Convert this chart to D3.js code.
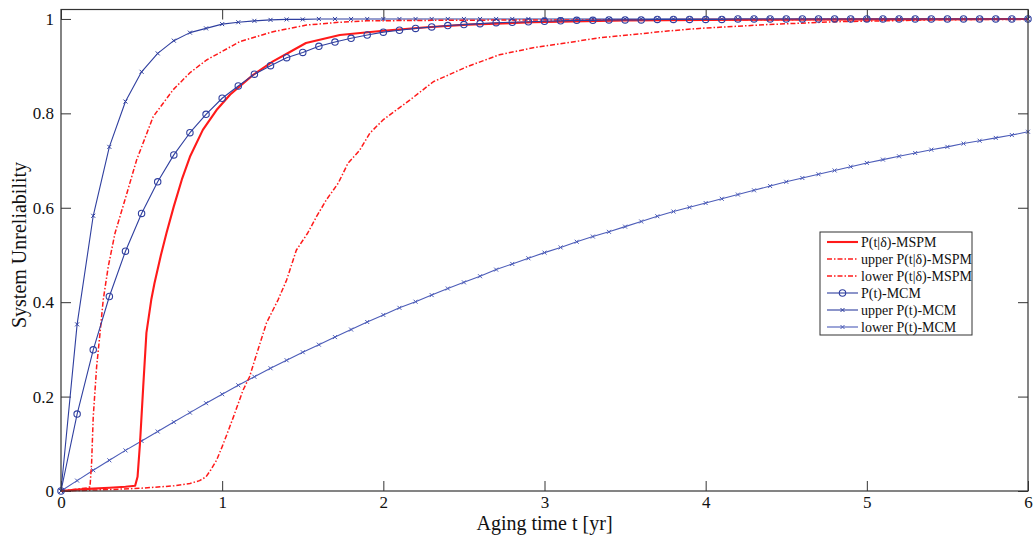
<!DOCTYPE html>
<html>
<head>
<meta charset="utf-8">
<script src="https://cdn.jsdelivr.net/npm/d3@7"></script>
<style>
  html, body { margin: 0; padding: 0; background: #fff; }
  svg { display: block; }
  svg text { font-family: "Liberation Serif", "DejaVu Serif", "Times New Roman", serif; }
</style>
</head>
<body>
<svg id="chart" width="1036" height="541"></svg>
<script>
// ---------- DATA ----------
const xTicks = [0, 1, 2, 3, 4, 5, 6];
const yTicks = [0, 0.2, 0.4, 0.6, 0.8, 1];
const xTickLabels = ["0", "1", "2", "3", "4", "5", "6"];
const yTickLabels = ["0", "0.2", "0.4", "0.6", "0.8", "1"];
const xLabel = "Aging time t [yr]";
const yLabel = "System Unreliability";

const seriesNames = [
  "P(t|\u03b4)-MSPM",
  "upper P(t|\u03b4)-MSPM",
  "lower P(t|\u03b4)-MSPM",
  "P(t)-MCM",
  "upper P(t)-MCM",
  "lower P(t)-MCM"
];

// MSPM curves (irregular time sampling)
const mspmT = [0, 0.1, 0.2, 0.3, 0.4, 0.46, 0.475, 0.49, 0.51, 0.53, 0.56, 0.58, 0.62, 0.655, 0.7, 0.75, 0.8, 0.88, 0.965, 1.05, 1.19, 1.315, 1.42, 1.52, 1.73, 2.0, 2.25, 2.52, 2.93, 3.5, 4.0, 5.0, 6.0];
const mspmP = [0, 0.003, 0.005, 0.007, 0.009, 0.011, 0.03, 0.1, 0.22, 0.335, 0.405, 0.44, 0.5, 0.547, 0.603, 0.66, 0.708, 0.765, 0.807, 0.84, 0.881, 0.91, 0.93, 0.949, 0.966, 0.975, 0.982, 0.988, 0.993, 0.997, 0.998, 0.999, 1.0];

const upperMspmT = [0, 0.1, 0.17, 0.18, 0.19, 0.2, 0.221, 0.242, 0.262, 0.293, 0.335, 0.397, 0.469, 0.572, 0.696, 0.8, 0.903, 1.11, 1.316, 1.523, 1.73, 1.895, 2.3, 3.0, 4.0, 5.0, 6.0];
const upperMspmP = [0, 0.004, 0.007, 0.009, 0.06, 0.157, 0.263, 0.334, 0.405, 0.475, 0.546, 0.617, 0.701, 0.793, 0.85, 0.886, 0.913, 0.952, 0.973, 0.987, 0.993, 0.996, 0.997, 0.998, 0.998, 0.999, 0.999];

const lowerMspmT = [0, 0.3, 0.5, 0.7, 0.8, 0.86, 0.9, 0.93, 0.965, 1.0, 1.035, 1.07, 1.13, 1.17, 1.2, 1.235, 1.275, 1.347, 1.4, 1.44, 1.46, 1.53, 1.585, 1.647, 1.72, 1.78, 1.853, 1.916, 1.998, 2.08, 2.164, 2.31, 2.52, 2.72, 2.93, 3.13, 3.34, 3.55, 3.75, 3.96, 4.38, 4.79, 5.41, 6.0];
const lowerMspmP = [0, 0.003, 0.006, 0.011, 0.016, 0.022, 0.03, 0.045, 0.065, 0.094, 0.125, 0.157, 0.214, 0.242, 0.275, 0.313, 0.356, 0.405, 0.447, 0.489, 0.51, 0.546, 0.581, 0.617, 0.652, 0.694, 0.722, 0.758, 0.786, 0.807, 0.828, 0.867, 0.899, 0.924, 0.939, 0.949, 0.96, 0.967, 0.974, 0.98, 0.988, 0.994, 0.998, 1.0];

// MCM curves (sampled every 0.1 yr)
const mcmT = [0, 0.1, 0.2, 0.3, 0.4, 0.5, 0.6, 0.7, 0.8, 0.9, 1.0, 1.1, 1.2, 1.3, 1.4, 1.5, 1.6, 1.7, 1.8, 1.9, 2.0, 2.1, 2.2, 2.3, 2.4, 2.5, 2.6, 2.7, 2.8, 2.9, 3.0, 3.1, 3.2, 3.3, 3.4, 3.5, 3.6, 3.7, 3.8, 3.9, 4.0, 4.1, 4.2, 4.3, 4.4, 4.5, 4.6, 4.7, 4.8, 4.9, 5.0, 5.1, 5.2, 5.3, 5.4, 5.5, 5.6, 5.7, 5.8, 5.9, 6.0];
const mcmP = [0, 0.163, 0.299, 0.412, 0.508, 0.588, 0.655, 0.712, 0.759, 0.798, 0.832, 0.858, 0.883, 0.901, 0.918, 0.929, 0.942, 0.951, 0.959, 0.966, 0.972, 0.976, 0.98, 0.983, 0.986, 0.988, 0.99, 0.992, 0.993, 0.994, 0.995, 0.996, 0.997, 0.997, 0.998, 0.998, 0.998, 0.999, 0.999, 0.999, 0.999, 0.999, 1, 1, 1, 1, 1, 1, 1, 1, 1, 1, 1, 1, 1, 1, 1, 1, 1, 1, 1];
const upperMcmP = [0, 0.353, 0.583, 0.729, 0.825, 0.888, 0.927, 0.954, 0.971, 0.98, 0.989, 0.993, 0.996, 0.998, 0.999, 0.999, 1, 1, 1, 1, 1, 1, 1, 1, 1, 1, 1, 1, 1, 1, 1, 1, 1, 1, 1, 1, 1, 1, 1, 1, 1, 1, 1, 1, 1, 1, 1, 1, 1, 1, 1, 1, 1, 1, 1, 1, 1, 1, 1, 1, 1];
const lowerMcmP = [0, 0.022, 0.044, 0.065, 0.086, 0.106, 0.126, 0.146, 0.166, 0.186, 0.205, 0.224, 0.242, 0.26, 0.277, 0.294, 0.31, 0.326, 0.342, 0.358, 0.373, 0.388, 0.401, 0.415, 0.429, 0.442, 0.455, 0.469, 0.481, 0.493, 0.505, 0.516, 0.528, 0.539, 0.549, 0.56, 0.571, 0.582, 0.592, 0.601, 0.61, 0.619, 0.628, 0.637, 0.646, 0.655, 0.663, 0.671, 0.679, 0.687, 0.695, 0.702, 0.709, 0.716, 0.723, 0.729, 0.736, 0.742, 0.748, 0.754, 0.761];

// ---------- STYLES ----------
const FONT = "'Liberation Serif', 'DejaVu Serif', 'Times New Roman', serif";
const RED = "#ff1a1a";
const BLUE = "#2f3f9f";
const BLUE_LIGHT = "#4c5cb8";
const DASHDOT = "5,2,1.5,2";

const styles = [
  { color: RED, width: 2.1, dash: null, marker: null },
  { color: RED, width: 1.5, dash: DASHDOT, marker: null },
  { color: RED, width: 1.5, dash: DASHDOT, marker: null },
  { color: BLUE, width: 1.1, dash: null, marker: "circle" },
  { color: BLUE, width: 1.1, dash: null, marker: "x" },
  { color: BLUE_LIGHT, width: 1.1, dash: null, marker: "x" }
];

const zip = (ts, ps) => ts.map((t, i) => ({ t: t, p: ps[i] }));
const seriesData = [
  zip(mspmT, mspmP),
  zip(upperMspmT, upperMspmP),
  zip(lowerMspmT, lowerMspmP),
  zip(mcmT, mcmP),
  zip(mcmT, upperMcmP),
  zip(mcmT, lowerMcmP)
];

// ---------- LAYOUT ----------
const svg = d3.select("#chart");
const padL = 61, padR = 1028, padT = 9.5, padB = 491;

const x = d3.scaleLinear().domain([0, 6]).range([padL, padR]);
const y = d3.scaleLinear().domain([0, 1.02]).range([padB, padT]);

const AXIS_COLOR = "#333";

const gB = svg.append("g").attr("transform", `translate(0,${padB})`)
  .call(d3.axisBottom(x).tickValues(xTicks).tickFormat((d, i) => xTickLabels[i]).tickSizeInner(-10).tickSizeOuter(0).tickPadding(5));
const gT = svg.append("g").attr("transform", `translate(0,${padT})`)
  .call(d3.axisTop(x).tickValues(xTicks).tickFormat("").tickSizeInner(-10).tickSizeOuter(0));
const gL = svg.append("g").attr("transform", `translate(${padL},0)`)
  .call(d3.axisLeft(y).tickValues(yTicks).tickFormat((d, i) => yTickLabels[i]).tickSizeInner(-10).tickSizeOuter(0).tickPadding(7));
const gR = svg.append("g").attr("transform", `translate(${padR},0)`)
  .call(d3.axisRight(y).tickValues(yTicks).tickFormat("").tickSizeInner(-10).tickSizeOuter(0));

[gB, gT, gL, gR].forEach(g => {
  g.attr("font-family", null).attr("font-size", null);
  g.select(".domain").remove();
  g.selectAll(".tick line").attr("stroke", AXIS_COLOR).attr("stroke-width", 1);
  g.selectAll(".tick text").attr("fill", "#111").style("font-size", "17px").style("font-family", FONT);
});

const line = d3.line().x(d => x(d.t)).y(d => y(d.p));
const plotG = svg.append("g");

function drawMarker(g, type, cx, cy, color) {
  if (type === "circle") {
    g.append("circle").attr("cx", cx).attr("cy", cy).attr("r", 3.2)
      .attr("fill", "none").attr("stroke", color).attr("stroke-width", 1.1);
  } else if (type === "x") {
    const s = 2;
    g.append("path").attr("d", `M${cx - s},${cy - s}L${cx + s},${cy + s}M${cx - s},${cy + s}L${cx + s},${cy - s}`)
      .attr("stroke", color).attr("stroke-width", 1).attr("fill", "none");
  }
}

const drawOrder = [5, 4, 2, 1, 0, 3];
drawOrder.forEach(i => {
  const st = styles[i];
  const g = plotG.append("g");
  g.append("path").datum(seriesData[i]).attr("d", line)
    .attr("fill", "none").attr("stroke", st.color).attr("stroke-width", st.width)
    .attr("stroke-dasharray", st.dash).attr("stroke-linejoin", "round");
  if (st.marker) {
    seriesData[i].forEach(d => drawMarker(g, st.marker, x(d.t), y(d.p), st.color));
  }
});

svg.append("rect").attr("x", padL).attr("y", padT).attr("width", padR - padL).attr("height", padB - padT)
  .attr("fill", "none").attr("stroke", AXIS_COLOR).attr("stroke-width", 1.2);

svg.append("text").attr("x", (padL + padR) / 2).attr("y", 530)
  .attr("text-anchor", "middle").style("font-size", "20px").style("font-family", FONT).attr("fill", "#111").text(xLabel);
svg.append("text").attr("transform", "translate(26,245) rotate(-90)")
  .attr("text-anchor", "middle").style("font-size", "20px").style("font-family", FONT).attr("fill", "#111").text(yLabel);

// Legend
const lg = svg.append("g");
const lx = 820, ly = 232, lw = 152, lh = 103;
lg.append("rect").attr("x", lx).attr("y", ly).attr("width", lw).attr("height", lh)
  .attr("fill", "#fff").attr("stroke", AXIS_COLOR).attr("stroke-width", 1);
const rowY0 = 242, rowDy = 17;
seriesNames.forEach((name, i) => {
  const st = styles[i];
  const yy = rowY0 + i * rowDy;
  lg.append("line").attr("x1", 827).attr("x2", 858).attr("y1", yy).attr("y2", yy)
    .attr("stroke", st.color).attr("stroke-width", st.width).attr("stroke-dasharray", st.dash);
  if (st.marker) drawMarker(lg, st.marker, 842.5, yy, st.color);
  lg.append("text").attr("x", 861).attr("y", yy).attr("dy", "0.35em")
    .style("font-size", "14px").style("font-family", FONT).attr("fill", "#111").text(name);
});
</script>
</body>
</html>
